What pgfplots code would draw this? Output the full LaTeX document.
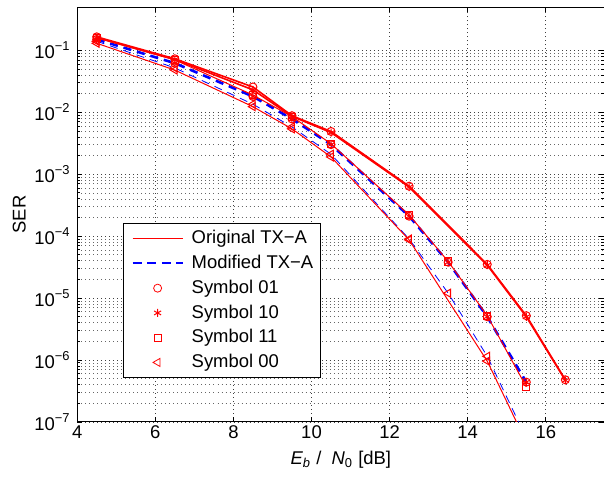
\documentclass[border=0pt]{standalone}
\usepackage{fontspec}
\setmainfont{Liberation Sans}
\usepackage{pgfplots}
\pgfplotsset{compat=1.18}

\begin{document}
\fontsize{9.2}{11}\selectfont
\begin{tikzpicture}
\begin{axis}[
  scale only axis, width=263pt, height=207pt,
  ymode=log,
  xmin=4, xmax=17.5, ymin=1e-7, ymax=0.5,
  xtick={4,6,8,10,12,14,16},
  ytick={1e-7,1e-6,1e-5,1e-4,1e-3,1e-2,1e-1},
  yticklabels={10\textsuperscript{−7},10\textsuperscript{−6},10\textsuperscript{−5},10\textsuperscript{−4},10\textsuperscript{−3},10\textsuperscript{−2},10\textsuperscript{−1}},
  /pgf/number format/assume math mode=true,
  tick label style={font=\fontsize{9.2}{11}\selectfont},
  label style={font=\fontsize{9.2}{11}\selectfont},
  xticklabel style={yshift=1.5pt},
  ylabel style={yshift=-2pt},
  xmajorgrids, ymajorgrids, yminorgrids,
  major grid style={line width=0.35pt, black!75, dash pattern=on 0.4pt off 1.6pt},
  minor grid style={line width=0.35pt, black!60, dash pattern=on 0.4pt off 1.6pt},
  tick style={black, line width=0.4pt},
  major tick length=2.5pt, minor tick length=1.5pt,
  axis line style={line width=0.5pt},
  xlabel={\textit{E}\textsubscript{\textit{b}} /\ \ \textit{N}\textsubscript{0} [dB]},
  ylabel={SER},
  legend image code/.code={\path (-1.5pt,0pt) (28pt,0pt);
    \draw[mark repeat=2,mark phase=2,#1] plot coordinates {(0pt,0pt) (12.5pt,0pt) (25pt,0pt)};},
  legend style={at={(0.087,0.106)}, anchor=south west, draw=black, line width=0.5pt,
    fill=white, row sep=2.3pt, inner xsep=2.5pt, inner ysep=2.5pt,
    nodes={inner sep=1pt}, font=\fontsize{9.2}{11}\selectfont},
  legend cell align=left,
  every axis plot/.append style={mark size=2pt},
]
% legend
\addlegendimage{color=red, draw=red, line width=0.6pt}
\addlegendentry{Original TX−A}
\addlegendimage{color=blue, draw=blue, line width=1pt, dash pattern=on 4.5pt off 2.8pt}
\addlegendentry{Modified TX−A}
\addlegendimage{only marks, draw=red, mark=o, mark options={line width=0.4pt}}
\addlegendentry{Symbol 01}
\addlegendimage{only marks, draw=red, mark=asterisk, mark options={line width=0.5pt}}
\addlegendentry{Symbol 10}
\addlegendimage{only marks, draw=red, mark=square, mark size=1.8pt, mark options={line width=0.4pt}}
\addlegendentry{Symbol 11}
\addlegendimage{only marks, draw=red, mark=triangle, mark size=2.3pt, mark options={rotate=90, line width=0.4pt}}
\addlegendentry{Symbol 00}

% Modified TX-A, symbol 00 (thin dashed)
\addplot[forget plot, blue, line width=0.4pt, dash pattern=on 4pt off 3pt,
  mark=triangle, mark size=2.3pt, mark options={red, solid, rotate=90, line width=0.5pt}] coordinates {
 (4.5,0.14) (6.5,0.052) (8.5,0.0135) (9.5,0.0058) (10.5,0.0021)
 (12.5,9e-5) (13.5,1.2e-5) (14.5,1.15e-6) (15.5,5.5e-8)};
% Original TX-A, symbol 00
\addplot[forget plot, red, line width=0.5pt,
  mark=triangle, mark size=2.3pt, mark options={solid, rotate=90, line width=0.5pt}] coordinates {
 (4.5,0.13) (6.5,0.048) (8.5,0.0123) (9.5,0.0054) (10.5,0.0019)
 (12.5,8.7e-5) (14.5,9.6e-7) (15.5,4.7e-8)};
% Modified TX-A, symbols 01, 10, 11 (thick dashed)
\addplot[forget plot, blue, line width=1.3pt, dash pattern=on 4pt off 3pt,
  mark=o, mark options={red, solid, line width=0.5pt}] coordinates {
 (4.5,0.15) (6.5,0.062) (8.5,0.018) (9.5,0.0078) (10.5,0.0030)
 (12.5,2.1e-4) (13.5,3.8e-5) (14.5,5.0e-6) (15.5,4.4e-7)};
\addplot[forget plot, blue, line width=0.4pt, dash pattern=on 4pt off 3pt,
  mark=asterisk, mark options={red, solid, line width=0.5pt}] coordinates {
 (4.5,0.15) (6.5,0.062) (8.5,0.018) (9.5,0.0078) (10.5,0.0030)
 (12.5,2.1e-4) (13.5,3.8e-5) (14.5,5.0e-6) (15.5,4.4e-7)};
% Original TX-A, symbol 11
\addplot[forget plot, red, line width=0.5pt,
  mark=square, mark size=1.8pt, mark options={solid, line width=0.5pt}] coordinates {
 (4.5,0.16) (6.5,0.07) (8.5,0.019) (9.5,0.0085) (10.5,0.0031)
 (12.5,2.2e-4) (13.5,3.9e-5) (14.5,5.2e-6) (15.5,3.7e-7)};
% Original TX-A, symbols 01 and 10
\addplot[forget plot, red, line width=0.8pt,
  mark=o, mark options={solid, line width=0.5pt}] coordinates {
 (4.5,0.165) (6.5,0.073) (8.5,0.0256) (9.5,0.0088) (10.5,0.0049)
 (12.5,6.4e-4) (14.5,3.5e-5) (15.5,5.2e-6) (16.5,4.8e-7)};
\addplot[forget plot, red, line width=0.8pt,
  mark=asterisk, mark options={solid, line width=0.5pt}] coordinates {
 (4.5,0.16) (6.5,0.071) (8.5,0.023) (9.5,0.0086) (10.5,0.0047)
 (12.5,6.2e-4) (14.5,3.4e-5) (15.5,5.0e-6) (16.5,4.7e-7)};
\end{axis}
\pgfresetboundingbox
\path (-38.5pt,-27.4pt) rectangle (262.8pt,210.5pt);
\end{tikzpicture}
\end{document}
